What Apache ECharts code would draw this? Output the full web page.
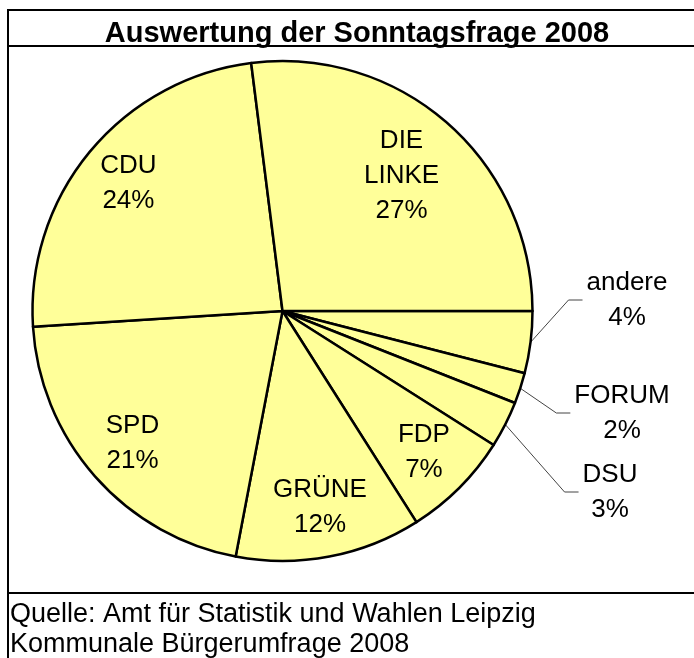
<!DOCTYPE html>
<html>
<head>
<meta charset="utf-8">
<script src="https://cdn.jsdelivr.net/npm/echarts@6/dist/echarts.min.js"></script>
<style>
html,body{margin:0;padding:0;background:#fff;}
#chart{width:694px;height:658px;}
</style>
</head>
<body>
<div id="chart"></div>
<script>
// ---- data ----
var categories = ['andere', 'FORUM', 'DSU', 'FDP', 'GRÜNE', 'SPD', 'CDU', 'DIE LINKE'];
var values = [4, 2, 3, 7, 12, 21, 24, 27];
var outsideLabels = ['andere', 'FORUM', 'DSU'];
var titleText = 'Auswertung der Sonntagsfrage 2008';
var sourceLines = ['Quelle: Amt für Statistik und Wahlen Leipzig', 'Kommunale Bürgerumfrage 2008'];

// ---- layout ----
var FONT = "'Liberation Sans', Arial, sans-serif";
var CX = 282.5, CY = 311, R = 250;
// label centres for the small slices (placed to the right of the pie)
var outsidePos = { 'andere': [627, 300], 'FORUM': [622, 413], 'DSU': [610, 492] };

var total = values.reduce(function (a, b) { return a + b; }, 0);
function midAngle(i) {
  var s = 0;
  for (var k = 0; k < i; k++) s += values[k];
  return (s + values[i] / 2) / total * 2 * Math.PI; // clockwise from 3 o'clock (screen coords)
}

var chart = echarts.init(document.getElementById('chart'), null, { renderer: 'canvas' });

var data = categories.map(function (c, i) {
  var outside = outsideLabels.indexOf(c) >= 0;
  return {
    name: c,
    value: values[i],
    label: { position: outside ? 'outside' : 'inside' },
    labelLine: { show: outside }
  };
});

chart.setOption({
  animation: false,
  backgroundColor: '#fff',
  title: [{
    text: titleText,
    left: 352,
    textAlign: 'center',
    top: 14,
    textStyle: { fontFamily: FONT, fontSize: 29, fontWeight: 'bold', color: '#000' }
  }, {
    text: sourceLines.join('\n'),
    left: 10,
    top: 600,
    padding: 0,
    textStyle: { fontFamily: FONT, fontSize: 27, fontWeight: 'normal', color: '#000', lineHeight: 30 }
  }],
  graphic: [
    { type: 'rect', silent: true, shape: { x: 8, y: 10, width: 700, height: 700 }, style: { fill: 'none', stroke: '#000', lineWidth: 2 } },
    { type: 'line', silent: true, shape: { x1: 8, y1: 46, x2: 700, y2: 46 }, style: { stroke: '#000', lineWidth: 2 } },
    { type: 'line', silent: true, shape: { x1: 8, y1: 593, x2: 700, y2: 593 }, style: { stroke: '#000', lineWidth: 2 } }
  ],
  series: [{
    type: 'pie',
    center: [CX, CY],
    radius: [0, R],
    startAngle: 0,
    clockwise: true,
    avoidLabelOverlap: false,
    silent: true,
    itemStyle: { color: '#FFFF99', borderColor: '#000', borderWidth: 2.5 },
    emphasis: { disabled: true },
    label: {
      show: true,
      fontFamily: FONT,
      fontSize: 26,
      lineHeight: 35,
      color: '#000',
      formatter: function (p) { return p.name.replace(' ', '\n') + '\n' + Math.round(p.percent) + '%'; }
    },
    labelLine: { show: true, length: 20, length2: 15, lineStyle: { color: '#444', width: 1 } },
    labelLayout: function (p) {
      var i = p.dataIndex;
      var name = categories[i];
      var a = midAngle(i);
      if (outsidePos[name]) {
        var pos = outsidePos[name];
        var w = p.labelRect.width;
        var left = pos[0] - w / 2;
        var ax = CX + R * Math.cos(a), ay = CY + R * Math.sin(a);
        return {
          x: pos[0], y: pos[1], align: 'center', verticalAlign: 'middle',
          labelLinePoints: [[ax, ay], [left - 18, pos[1]], [left - 4, pos[1]]]
        };
      }
      var lines = p.text.split('\n').length;
      var f = lines > 2 ? 0.72 : 0.8;
      return { x: CX + f * R * Math.cos(a), y: CY + f * R * Math.sin(a), align: 'center', verticalAlign: 'middle' };
    },
    data: data
  }]
});
</script>
</body>
</html>
